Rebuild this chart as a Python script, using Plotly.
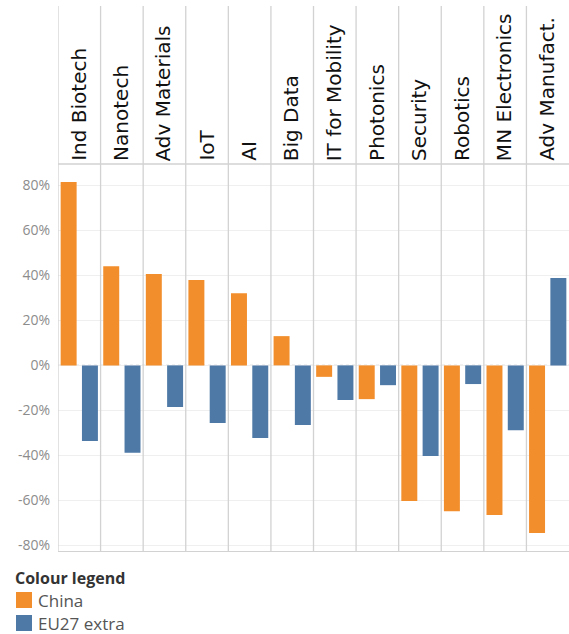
import plotly.graph_objects as go

technologies = ["Ind Biotech", "Nanotech", "Adv Materials", "IoT", "AI", "Big Data",
                "IT for Mobility", "Photonics", "Security", "Robotics", "MN Electronics",
                "Adv Manufact."]
china = [81.5, 44.1, 40.6, 37.9, 32.1, 13.0, -5.1, -15.0, -60.3, -64.8, -66.5, -74.5]
eu27_extra = [-33.6, -38.8, -18.5, -25.6, -32.3, -26.5, -15.4, -8.8, -40.3, -8.3, -28.8, 38.8]
y_ticks = [-80, -60, -40, -20, 0, 20, 40, 60, 80]
y_tick_labels = ["-80%", "-60%", "-40%", "-20%", "0%", "20%", "40%", "60%", "80%"]

ORANGE = "#F28E2B"
BLUE = "#4E79A7"
DIV = "#d2d2d2"

fig = go.Figure()
fig.add_trace(go.Bar(x=technologies, y=china, name="China", marker_color=ORANGE,
                     marker_line_width=0))
fig.add_trace(go.Bar(x=technologies, y=eu27_extra, name="EU27 extra", marker_color=BLUE,
                     marker_line_width=0))

shapes = []
for i in range(len(technologies)):
    shapes.append(dict(type="line", xref="x", yref="paper", x0=i - 0.5, x1=i - 0.5,
                       y0=0, y1=1.408, line=dict(color=DIV, width=1.3), layer="above"))
shapes.append(dict(type="line", xref="paper", yref="paper", x0=0, x1=1, y0=1, y1=1,
                   line=dict(color=DIV, width=1.3)))
shapes.append(dict(type="line", xref="paper", yref="y", x0=0, x1=1, y0=0, y1=0,
                   line=dict(color="#c8c8c8", width=1.3, dash="dot"), layer="below"))
for col, yb in [(ORANGE, -57), (BLUE, -80)]:
    shapes.append(dict(type="rect", xref="paper", yref="paper",
                       xsizemode="pixel", ysizemode="pixel", xanchor=0, yanchor=0,
                       x0=-42, x1=-26, y0=yb, y1=yb + 16,
                       fillcolor=col, line=dict(width=0)))

annotations = []
for t in technologies:
    annotations.append(dict(x=t, y=1, xref="x", yref="paper", text=t, showarrow=False,
                            textangle=-90, xanchor="center", yanchor="bottom", yshift=1,
                            xshift=-1,
                            font=dict(family="DejaVu Sans", size=20, color="#111111")))
annotations.append(dict(x=0, y=0, xref="paper", yref="paper", text="<b>Colour legend</b>",
                        showarrow=False, xanchor="left", yanchor="middle",
                        xshift=-45, yshift=-27,
                        font=dict(family="Open Sans", size=16, color="#333333")))
for name, ys in [("China", -49), ("EU27 extra", -72)]:
    annotations.append(dict(x=0, y=0, xref="paper", yref="paper", text=name,
                            showarrow=False, xanchor="left", yanchor="middle",
                            xshift=-22, yshift=ys,
                            font=dict(family="Open Sans", size=17, color="#555555")))

fig.update_layout(
    width=569, height=634,
    margin=dict(l=58, r=0, t=164, b=83),
    paper_bgcolor="white", plot_bgcolor="white",
    barmode="group", bargap=0, bargroupgap=0.25,
    showlegend=False,
    shapes=shapes, annotations=annotations,
    xaxis=dict(showticklabels=False, showgrid=False, zeroline=False,
               showline=True, linecolor=DIV, linewidth=1.3,
               range=[-0.5, len(technologies) - 0.5], fixedrange=True),
    yaxis=dict(range=[-82.5, 89.5], tickmode="array", tickvals=y_ticks,
               ticktext=y_tick_labels,
               showgrid=True, gridcolor="#efefef", gridwidth=1,
               zeroline=False, showline=False, ticks="",
               ticklabelstandoff=7,
               tickfont=dict(family="Open Sans", size=14, color="#8c8c8c")),
)

fig.write_html("out.html")
